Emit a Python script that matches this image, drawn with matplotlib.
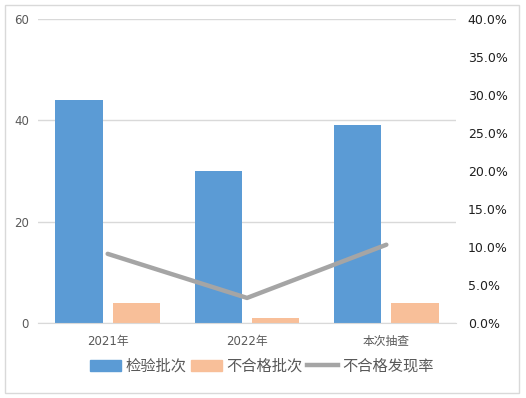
import matplotlib
matplotlib.use("Agg")
import matplotlib.pyplot as plt
from matplotlib.patches import Rectangle
from matplotlib.lines import Line2D
from matplotlib.ticker import FuncFormatter, MultipleLocator

plt.rcParams['font.family'] = ['DejaVu Sans', 'Noto Sans CJK SC']

categories = ["2021年", "2022年", "本次抽查"]
inspected = [44, 30, 39]
failed = [4, 1, 4]
fail_rate = [9.1, 3.3, 10.3]  # percent

blue = "#5B9BD5"
orange = "#F8BF99"
gray_line = "#A5A5A5"
grid_c = "#D9D9D9"

fig = plt.figure(figsize=(5.26, 3.98), dpi=100)
fig.patches.append(Rectangle((5 / 526, 5 / 398), 514 / 526, 388 / 398,
                             transform=fig.transFigure, fill=False,
                             edgecolor="#D9D9D9", linewidth=1.0))

ax = fig.add_axes([38 / 526, 1 - 323 / 398, 418 / 526, 304 / 398])
x = list(range(len(categories)))
w = 0.34
off = 0.205
ax.bar([i - off for i in x], inspected, width=w, color=blue, zorder=2)
ax.bar([i + off for i in x], failed, width=w, color=orange, zorder=2)

ax.set_xlim(-0.5, len(categories) - 0.5)
ax.set_ylim(0, 60)
ax.yaxis.set_major_locator(MultipleLocator(20))
ax.grid(axis="y", color=grid_c, linewidth=1.0, zorder=0)
for s in ["top", "right", "left"]:
    ax.spines[s].set_visible(False)
ax.spines["bottom"].set_color(grid_c)
ax.tick_params(axis="y", length=0, pad=6.5, labelsize=8.5, labelcolor="#595959")
ax.tick_params(axis="x", length=0, pad=9, labelsize=8.5, labelcolor="#595959")
ax.set_xticks(x)
ax.set_xticklabels(categories)

ax2 = ax.twinx()
ax2.plot(x, fail_rate, color=gray_line, linewidth=3.2, solid_capstyle="round", zorder=3)
ax2.set_ylim(0, 40)
ax2.yaxis.set_major_locator(MultipleLocator(5))
ax2.yaxis.set_major_formatter(FuncFormatter(lambda v, p: f"{v:.1f}%"))
ax2.tick_params(axis="y", length=0, pad=8.5, labelsize=9, labelcolor="#1F1F1F")
for s in ["top", "right", "left", "bottom"]:
    ax2.spines[s].set_visible(False)

handles = [Rectangle((0, 0), 1, 1, color=blue),
           Rectangle((0, 0), 1, 1, color=orange),
           Line2D([0], [0], color=gray_line, linewidth=3.2)]
labels = ["检验批次", "不合格批次", "不合格发现率"]
fig.legend(handles, labels, loc="center", bbox_to_anchor=(262 / 526, 1 - 366 / 398),
           ncol=3, frameon=False, labelcolor="#595959",
           handlelength=2.0, handletextpad=0.3, columnspacing=0.3,
           prop={"family": ["Noto Sans CJK SC"], "size": 11})

fig.savefig("out.png", dpi=100)
